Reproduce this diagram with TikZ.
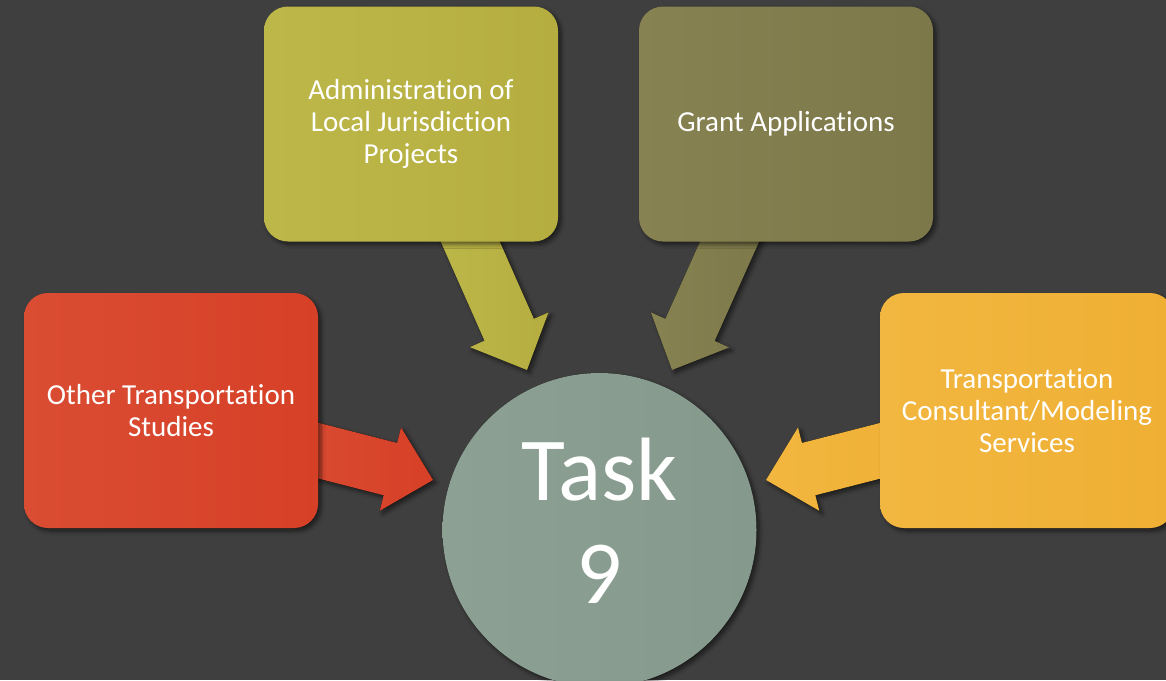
\documentclass[tikz,border=0pt]{standalone}
\usepackage{fontspec}
\setmainfont{Carlito}[Ligatures=NoCommon]
\usetikzlibrary{calc,shadows.blur}
\definecolor{bg}{HTML}{3F3F3F}
\definecolor{adminA}{HTML}{BDB749}
\definecolor{adminB}{HTML}{B5AD3F}
\definecolor{grantA}{HTML}{878251}
\definecolor{grantB}{HTML}{7D784A}
\definecolor{redA}{HTML}{DA4D33}
\definecolor{redB}{HTML}{D64027}
\definecolor{orA}{HTML}{F2B740}
\definecolor{orB}{HTML}{EFAF34}
\definecolor{taskA}{HTML}{8CA093}
\definecolor{taskB}{HTML}{86998D}
\tikzset{
  shade/.style={blur shadow={shadow xshift=3pt,shadow yshift=-3pt,shadow blur radius=4pt,shadow blur steps=6,shadow opacity=55}},
  boxstyle/.style={shade,rounded corners=24pt,minimum width=294pt,minimum height=235pt,inner sep=0pt,
    text=white,align=center,font=\fontsize{29}{32}\selectfont},
}
\newcommand\blkarrow[3]{%
  \coordinate (hb) at ($(#2)!44pt!(#1)$);
  \fill[shade,#3] ($(#1)!27pt!90:(#2)$) -- ($(hb)!27pt!90:(#2)$) -- ($(hb)!43pt!90:(#2)$) -- (#2)
     -- ($(hb)!43pt!-90:(#2)$) -- ($(hb)!27pt!-90:(#2)$) -- ($(#1)!27pt!-90:(#2)$) -- cycle;
}
\begin{document}
\begin{tikzpicture}[x=1pt,y=-1pt]
\clip (0,0) rectangle (1166,680);
\fill[bg] (0,0) rectangle (1166,680);
% connector end points
\coordinate (s-admin) at (454,205);  \coordinate (t-admin) at (527,370);
\coordinate (s-grant) at (746,205);  \coordinate (t-grant) at (672,370);
\coordinate (s-other) at (279,440.6); \coordinate (t-other) at (433,480);
\coordinate (s-cons) at (920,440.6); \coordinate (t-cons) at (766,480);
% arrows (behind boxes)
\blkarrow{s-admin}{t-admin}{left color=adminA,right color=adminB}
\blkarrow{s-grant}{t-grant}{left color=grantA,right color=grantB}
\blkarrow{s-other}{t-other}{left color=redA,right color=redB}
\blkarrow{s-cons}{t-cons}{left color=orA,right color=orB}
% boxes
\node[boxstyle,left color=adminA,right color=adminB] (admin) at (411,124)
  {Administration of\\Local Jurisdiction\\Projects};
\node[boxstyle,left color=grantA,right color=grantB] (grant) at (786,124)
  {Grant Applications};
\node[boxstyle,left color=redA,right color=redB] (other) at (171,410.5)
  {Other Transportation\\Studies};
\node[boxstyle,left color=orA,right color=orB] (cons) at (1027,410.5)
  {Transportation\\Consultant/Modeling\\Services};
% centre circle
\fill[shade,left color=taskA,right color=taskB] (599.5,530) circle[radius=157];
\node[text=white,align=center,font=\fontsize{90}{103}\selectfont,inner sep=0pt] (task) at (599.5,521) {Task\\9};
\end{tikzpicture}
\end{document}
